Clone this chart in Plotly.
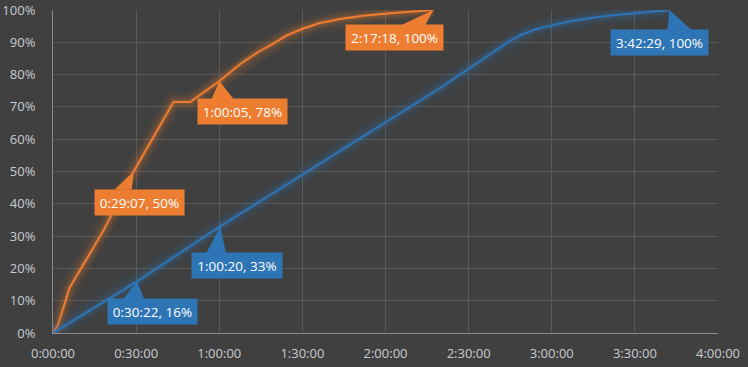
import plotly.graph_objects as go

# ---- data (minutes, percent) ----
orange_min = [0, 1.8, 6, 18.4, 29.12, 43.5, 49.5, 60.08, 67.6, 74, 79.4, 84, 89.8, 96, 103.6, 112, 121.7, 137.3]
orange_pct = [0, 2.5, 14, 32, 50, 71.5, 71.5, 78, 83.3, 87, 89.5, 92, 94.1, 95.9, 97.2, 98.2, 99, 100]
blue_min = [0, 30.37, 60.33, 100, 140, 165, 169, 174, 180, 187, 194, 202, 210.9, 222.48]
blue_pct = [0, 16, 33, 54.5, 76, 90.5, 92.3, 94, 95.3, 96.6, 97.5, 98.4, 99.1, 100]

tick_vals = [0, 30, 60, 90, 120, 150, 180, 210, 240]
tick_text = ["0:00:00", "0:30:00", "1:00:00", "1:30:00", "2:00:00", "2:30:00", "3:00:00", "3:30:00", "4:00:00"]

# callouts: (series, x minutes, y pct, label)
callout_series = ["o", "o", "o", "b", "b", "b"]
callout_x = [29.12, 60.08, 137.3, 30.37, 60.33, 222.48]
callout_y = [50, 78, 100, 16, 33, 100]
callout_text = ["0:29:07, 50%", "1:00:05, 78%", "2:17:18, 100%", "0:30:22, 16%", "1:00:20, 33%", "3:42:29, 100%"]

ORANGE = "#ED7D31"
BLUE = "#2E75B6"
BG = "#404040"

fig = go.Figure()

def add_series(xs, ys, color, rgb):
    for w, a in [(20, 0.04), (14, 0.07), (9, 0.11), (5, 0.17)]:
        fig.add_trace(go.Scatter(x=xs, y=ys, mode="lines",
                                 line=dict(color=f"rgba({rgb},{a})", width=w),
                                 hoverinfo="skip", showlegend=False))
    fig.add_trace(go.Scatter(x=xs, y=ys, mode="lines",
                             line=dict(color=color, width=2), showlegend=False))

add_series(orange_min, orange_pct, ORANGE, "237,125,49")
add_series(blue_min, blue_pct, BLUE, "46,117,182")

# callout geometry (pixels relative to the point): box offset and pointer base
box_dx = [-40, -22, -88, -30, -29, -59]
box_dy = [17, 17, 14, 17, 26, 19]
box_w = [89, 89, 97, 89, 90, 97]
ptr_l = [-19, -8, -32, -14, -14, -2]
ptr_r = [-2, 14, -8, 7, 6, 22]

shapes = []
annotations = []
for s, x, y, t, dx, dy, w, pl, pr in zip(callout_series, callout_x, callout_y, callout_text,
                                          box_dx, box_dy, box_w, ptr_l, ptr_r):
    col = ORANGE if s == "o" else BLUE
    shapes.append(dict(type="path", xref="x", yref="y", xsizemode="pixel", ysizemode="pixel",
                       xanchor=x, yanchor=y,
                       path=f"M0,0 L{pl},{-dy-1} L{pr},{-dy-1} Z",
                       fillcolor=col, line=dict(width=0), layer="above"))
    annotations.append(dict(x=x, y=y, xref="x", yref="y", text=t, showarrow=False,
                            xanchor="left", yanchor="top", xshift=dx, yshift=-dy,
                            width=w, height=25, borderpad=0, bgcolor=col,
                            font=dict(color="white", size=13.5, family="Open Sans")))

fig.update_layout(
    width=748, height=367,
    margin=dict(l=53, r=30, t=9.5, b=34),
    paper_bgcolor=BG, plot_bgcolor=BG,
    font=dict(family="Open Sans", size=13, color="#c8ccd2"),
    shapes=shapes, annotations=annotations,
    showlegend=False,
)
fig.update_xaxes(range=[0, 240], tickvals=tick_vals, ticktext=tick_text,
                 showgrid=True, gridcolor="#5a5a5a", gridwidth=1,
                 showline=True, linecolor="#8a8a8a", linewidth=1,
                 zeroline=False, ticks="", ticklabelstandoff=8, automargin=False)
fig.update_yaxes(range=[0, 100], dtick=10, ticksuffix="%",
                 showgrid=True, gridcolor="#5a5a5a", gridwidth=1,
                 showline=True, linecolor="#8a8a8a", linewidth=1,
                 zeroline=False, ticks="", ticklabelstandoff=14, automargin=False)

fig.write_html("out.html", config={"displayModeBar": False},
               post_script="document.body.style.margin='0';document.body.style.overflow='hidden';document.body.style.background='#404040';")
